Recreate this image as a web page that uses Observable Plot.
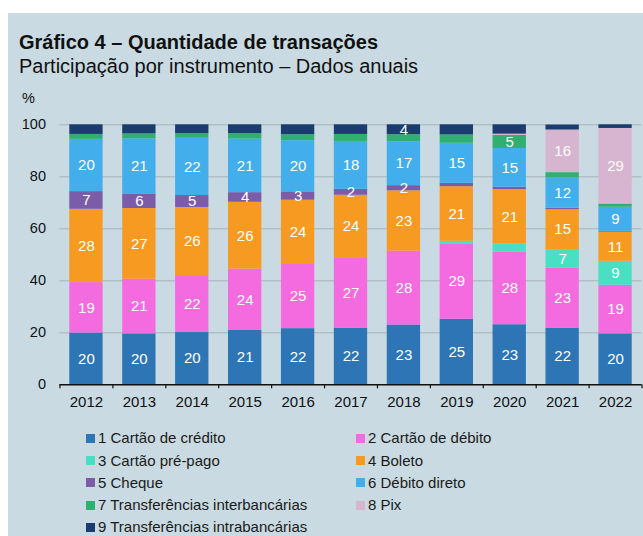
<!DOCTYPE html>
<html>
<head>
<meta charset="utf-8">
<script src="https://cdn.jsdelivr.net/npm/d3@7"></script>
<script src="https://cdn.jsdelivr.net/npm/@observablehq/plot@0.6"></script>
<style>
  body { margin: 0; background: #ffffff; }
  #wrap { position: relative; width: 643px; height: 536px; overflow: hidden;
          font-family: "Liberation Sans", Arial, sans-serif; }
  #bg { position: absolute; left: 8px; top: 13px; right: 0; bottom: 0; background: #C9DAE2; }
  .title { position: absolute; left: 19px; top: 32px; font-size: 20px; line-height: 20px;
           font-weight: bold; color: #111; white-space: nowrap; }
  .subtitle { position: absolute; left: 19px; top: 56px; font-size: 20px; line-height: 20px;
              color: #111; white-space: nowrap; }
  .unit { position: absolute; left: 22px; top: 91px; font-size: 14.5px; line-height: 14.5px; color: #111; }
  #chart { position: absolute; left: 0; top: 110px; }
  #legend { position: absolute; left: 86px; top: 427.3px; display: grid;
            grid-template-columns: 270px 270px; }
  .item { height: 22.3px; line-height: 22.3px; font-size: 15px; color: #1a1a1a; white-space: nowrap; }
  .sw { display: inline-block; width: 9px; height: 9px; margin-right: 3px; vertical-align: middle;
        position: relative; top: -1px; }
</style>
</head>
<body>
<div id="wrap">
  <div id="bg"></div>
  <div class="title">Gráfico 4 – Quantidade de transações</div>
  <div class="subtitle">Participação por instrumento – Dados anuais</div>
  <div class="unit">%</div>
  <div id="chart"></div>
  <div id="legend"></div>
</div>
<script>
// ---- data ----
const years = ["2012","2013","2014","2015","2016","2017","2018","2019","2020","2021","2022"];
const seriesNames = [
  "1 Cartão de crédito",
  "2 Cartão de débito",
  "3 Cartão pré-pago",
  "4 Boleto",
  "5 Cheque",
  "6 Débito direto",
  "7 Transferências interbancárias",
  "8 Pix",
  "9 Transferências intrabancárias"
];
const creditoValues      = [19.9, 19.6, 20.1, 20.9, 21.6, 21.8, 23.0, 25.2, 23.1, 21.8, 19.6];
const debitoValues       = [19.4, 21.0, 21.9, 23.6, 25.0, 27.1, 28.4, 29.0, 27.9, 23.1, 18.7];
const prePagoValues      = [0, 0, 0, 0, 0, 0, 0, 1.0, 3.2, 7.1, 9.2];
const boletoValues       = [28.2, 27.2, 26.2, 25.7, 24.4, 24.0, 23.2, 21.0, 20.9, 15.4, 11.2];
const chequeValues       = [6.8, 5.6, 4.6, 3.7, 3.2, 2.3, 2.0, 1.3, 0.9, 0.5, 0.3];
const debitoDiretoValues = [20.1, 21.2, 22.0, 20.6, 19.7, 18.4, 16.9, 15.4, 14.9, 11.6, 9.3];
const interbancValues    = [1.9, 1.9, 1.8, 2.1, 2.3, 2.7, 2.7, 3.2, 5.0, 2.1, 1.2];
const pixValues          = [0, 0, 0, 0, 0, 0, 0, 0, 0.5, 16.4, 29.1];
const intrabancValues    = [3.7, 3.5, 3.4, 3.4, 3.8, 3.7, 3.8, 3.9, 3.6, 1.9, 1.4];
const yTicks = [0, 20, 40, 60, 80, 100];
// segments labelled although small
const extraLabels = [
  ["5 Cheque", "2012"], ["5 Cheque", "2013"], ["5 Cheque", "2014"], ["5 Cheque", "2015"],
  ["5 Cheque", "2016"], ["5 Cheque", "2017"], ["5 Cheque", "2018"],
  ["9 Transferências intrabancárias", "2018"]
];
const labelThreshold = 5;

const colors = ["#2E75B5", "#F36BDF", "#48DFC3", "#F79A22", "#7B5CA8", "#42AEEC", "#30AF70", "#D7B4CF", "#1B3C6E"];

const allValues = [creditoValues, debitoValues, prePagoValues, boletoValues, chequeValues,
                   debitoDiretoValues, interbancValues, pixValues, intrabancValues];
const data = [];
seriesNames.forEach((s, si) => {
  years.forEach((y, yi) => data.push({series: s, year: y, value: allValues[si][yi]}));
});
const extraSet = new Set(extraLabels.map(([s, y]) => s + "|" + y));
const labelOf = d => {
  const r = Math.round(d.value);
  return (r >= labelThreshold || extraSet.has(d.series + "|" + d.year)) ? String(r) : "";
};

// ---- layout ----
const W = 643, H = 310;
const mL = 59.5, mR = 1.5;
const step = (W - mL - mR) / years.length;

const chart = Plot.plot({
  width: W, height: H,
  marginLeft: mL, marginRight: mR, marginTop: 14.3, marginBottom: 35.7,
  style: {background: "transparent", fontFamily: "Liberation Sans, Arial, sans-serif",
          fontSize: "15px", color: "#111", overflow: "visible"},
  x: {domain: years, paddingInner: 0.37, paddingOuter: 0.185, round: false, label: null},
  y: {domain: [0, 100], label: null},
  color: {domain: seriesNames, range: colors},
  marks: [
    Plot.gridY(yTicks.filter(t => t > 0), {stroke: "#A9B3BA", strokeOpacity: 1, strokeWidth: 1}),
    Plot.barY(data, {x: "year", y: "value", fill: "series"}),
    Plot.text(data, Plot.stackY({x: "year", y: "value", z: "series", text: labelOf,
                                 fill: "white", fontSize: 15})),
    Plot.ruleY([0], {stroke: "#111", strokeWidth: 1.5}),
    Plot.ruleX(years, {x: d => d, dx: -step / 2, y1: 0, y2: 0, insetBottom: -4, stroke: "#111", strokeWidth: 1.2}),
    Plot.ruleX(years.slice(-1), {x: d => d, dx: step / 2, y1: 0, y2: 0, insetBottom: -4, stroke: "#111", strokeWidth: 1.2}),
    Plot.axisX({tickSize: 0, tickPadding: 12, fontSize: 15}),
    Plot.axisY(yTicks, {tickSize: 0, tickPadding: 14, fontSize: 14.5})
  ]
});
document.getElementById("chart").appendChild(chart);

// ---- legend ----
const legend = document.getElementById("legend");
seriesNames.forEach((s, i) => {
  const item = document.createElement("div");
  item.className = "item";
  const sw = document.createElement("span");
  sw.className = "sw";
  sw.style.background = colors[i];
  item.appendChild(sw);
  item.appendChild(document.createTextNode(s));
  legend.appendChild(item);
});
</script>
</body>
</html>
